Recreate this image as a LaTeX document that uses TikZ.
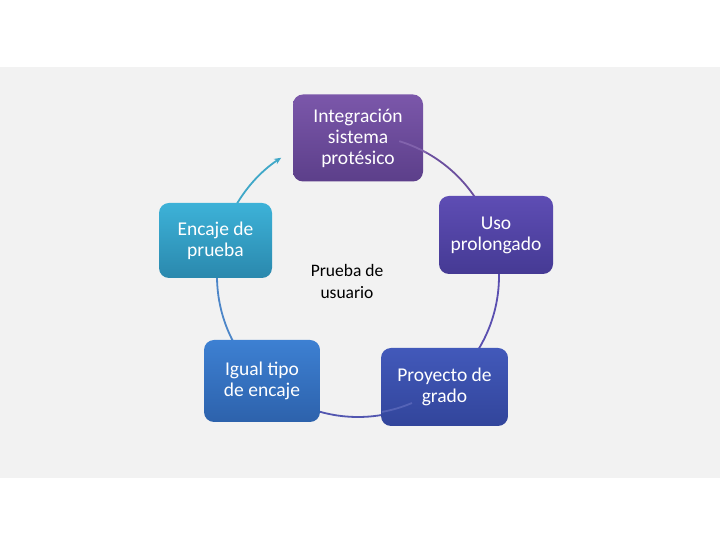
\documentclass[tikz,border=0pt]{standalone}
\usepackage{fontspec}
\setmainfont{Carlito}
\usetikzlibrary{arrows.meta}
\definecolor{band}{HTML}{F2F2F2}
\tikzset{
  box/.style={rounded corners=10pt, text=white, align=center, font=\fontsize{19.5}{21}\selectfont, inner sep=0pt},
  ring/.style={line width=1.8pt},
}
\begin{document}
\begin{tikzpicture}[x=1pt,y=1pt]
\useasboundingbox (0,0) rectangle (720,540);
\fill[white] (0,0) rectangle (720,540);
\fill[band] (0,62) rectangle (720,473);
\coordinate (C) at (358,264);
% arcs
\draw[ring, color={rgb,255:red,64;green,168;blue,200}, -{Stealth[length=7pt,width=6pt]}]
  ([shift={(150:141)}]C) arc[start angle=150, end angle=123, radius=141];
\draw[ring, color={rgb,255:red,107;green,79;blue,158}]
  ([shift={(76:141)}]C) arc[start angle=76, end angle=30, radius=141];
\draw[ring, color={rgb,255:red,90;green,79;blue,176}]
  ([shift={(5:141)}]C) arc[start angle=5, end angle=-38, radius=141];
\draw[ring, color={rgb,255:red,82;green,86;blue,176}]
  ([shift={(-70:141)}]C) arc[start angle=-70, end angle=-112, radius=141];
\draw[ring, color={rgb,255:red,77;green,134;blue,200}]
  ([shift={(-145:141)}]C) arc[start angle=-145, end angle=-185, radius=141];
% nodes
\node[box, minimum width=130pt, minimum height=87pt, top color={rgb,255:red,123;green,87;blue,170}, bottom color={rgb,255:red,92;green,63;blue,138}]
  (top) at (358,402) {Integración\\sistema\\protésico};
\node[box, minimum width=113pt, minimum height=75pt, top color={rgb,255:red,61;green,178;blue,216}, bottom color={rgb,255:red,42;green,136;blue,173}]
  (left) at (215.5,299.5) {Encaje de\\prueba};
\node[box, minimum width=114pt, minimum height=78pt, top color={rgb,255:red,94;green,77;blue,180}, bottom color={rgb,255:red,69;green,58;blue,148}]
  (right) at (496,305) {Uso\\prolongado};
\node[box, minimum width=116pt, minimum height=82pt, top color={rgb,255:red,61;green,128;blue,210}, bottom color={rgb,255:red,45;green,98;blue,172}]
  (bl) at (262,159) {Igual tipo\\de encaje};
\node[box, minimum width=127pt, minimum height=78pt, top color={rgb,255:red,66;green,89;blue,186}, bottom color={rgb,255:red,50;green,69;blue,155}]
  (br) at (444.5,153) {Proyecto de\\grado};
\node[align=center, font=\fontsize{17.5}{22}\selectfont, text=black] (lbl) at (347,259) {Prueba de\\usuario};
% faint arc parts over nodes
\draw[ring, draw opacity=0.55, color={rgb,255:red,150;green,120;blue,190}]
  ([shift={(73:141)}]C) arc[start angle=73, end angle=61, radius=141];
\draw[ring, draw opacity=0.55, color={rgb,255:red,110;green,120;blue,200}]
  ([shift={(-67:138)}]C) arc[start angle=-67, end angle=-80, radius=138];
\end{tikzpicture}
\end{document}
